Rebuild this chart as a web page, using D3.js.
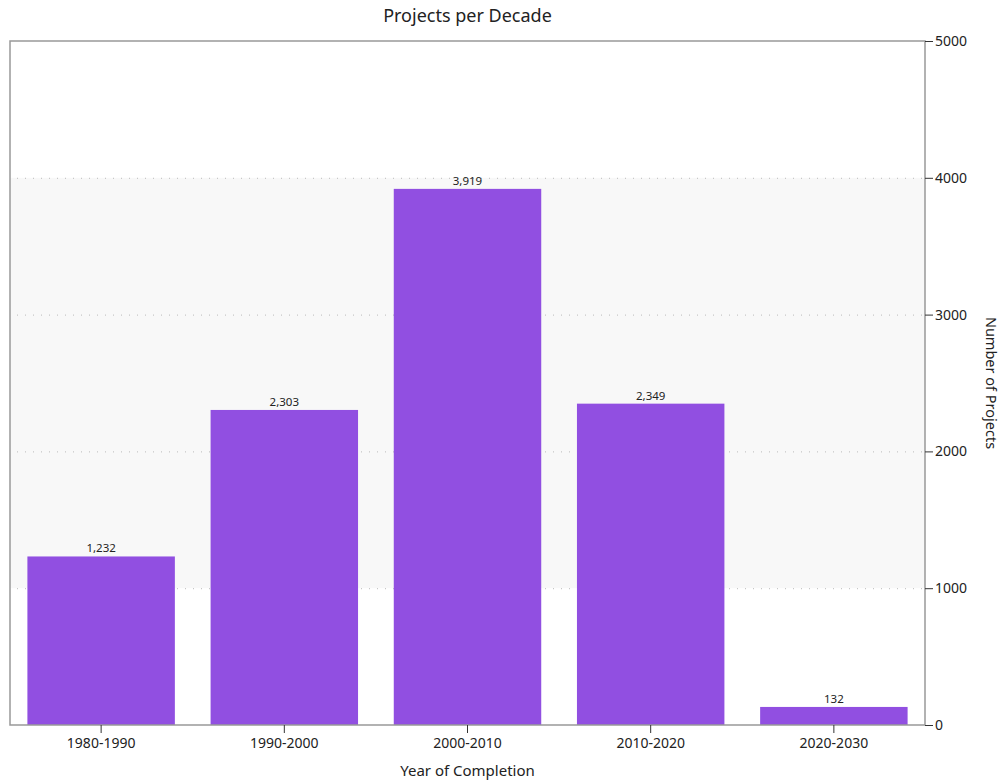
<!DOCTYPE html>
<html>
<head>
<meta charset="utf-8">
<script src="https://cdn.jsdelivr.net/npm/d3@7"></script>
<style>
  html, body { margin: 0; padding: 0; background: #fff; }
  svg { display: block; font-family: "Noto Sans", "Open Sans", sans-serif; }
</style>
</head>
<body>
<svg id="chart" width="1003" height="782"></svg>
<script>
// Number of projects completed per decade
const decades = ["1980-1990", "1990-2000", "2000-2010", "2010-2020", "2020-2030"];
const projectCounts = [1232, 2303, 3919, 2349, 132];
const yTicks = [0, 1000, 2000, 3000, 4000, 5000];
const shadedRange = [1000, 4000];

const svg = d3.select("#chart");
const margin = { left: 10, right: 78, top: 41, bottom: 57 };
const W = 1003, H = 782;
const plotW = W - margin.left - margin.right;
const plotH = H - margin.top - margin.bottom;

const x = d3.scaleBand().domain(decades).range([0, plotW]).paddingInner(0.195).paddingOuter(0.095);
const y = d3.scaleLinear().domain([0, 5000]).range([plotH, 0]);

const g = svg.append("g").attr("transform", `translate(${margin.left},${margin.top})`);

// shaded background band
g.append("rect")
  .attr("x", 0).attr("width", plotW)
  .attr("y", y(shadedRange[1])).attr("height", y(shadedRange[0]) - y(shadedRange[1]))
  .attr("fill", "#f8f8f8");

// dotted grid lines
g.selectAll(".grid").data(yTicks.filter(t => t > 0 && t < 5000)).join("line")
  .attr("x1", 7).attr("x2", plotW)
  .attr("y1", d => y(d) + 0.5).attr("y2", d => y(d) + 0.5)
  .attr("stroke", "#bbbbbb").attr("stroke-width", 1).attr("stroke-dasharray", "1,7");

// bars
g.selectAll(".bar").data(projectCounts).join("rect")
  .attr("x", (d, i) => x(decades[i]))
  .attr("width", x.bandwidth())
  .attr("y", d => y(d))
  .attr("height", d => plotH - y(d))
  .attr("fill", "#914fe1");

// value labels
g.selectAll(".val").data(projectCounts).join("text")
  .attr("x", (d, i) => x(decades[i]) + x.bandwidth() / 2)
  .attr("y", d => y(d) - 4)
  .attr("text-anchor", "middle")
  .attr("font-size", 11.5)
  .attr("fill", "#222")
  .text(d => d3.format(",")(d));

// frame
g.append("rect")
  .attr("x", 0).attr("y", 0).attr("width", plotW).attr("height", plotH)
  .attr("fill", "none").attr("stroke", "#999").attr("stroke-width", 1.5);

// right y axis
const yAxis = g.append("g").attr("transform", `translate(${plotW},0)`)
  .call(d3.axisRight(y).tickValues(yTicks).tickSize(8).tickPadding(2).tickFormat(d3.format("d")));
yAxis.select(".domain").remove();
yAxis.selectAll(".tick line").attr("stroke", "#333");
yAxis.selectAll("text").attr("font-size", 14).attr("fill", "#222").attr("font-family", "Noto Sans, sans-serif");

// bottom x axis
const xAxis = g.append("g").attr("transform", `translate(0,${plotH})`)
  .call(d3.axisBottom(x).tickSize(8).tickPadding(5));
xAxis.select(".domain").remove();
xAxis.selectAll(".tick line").attr("stroke", "#333");
xAxis.selectAll("text").attr("font-size", 14).attr("fill", "#222").attr("font-family", "Noto Sans, sans-serif");

// titles
svg.append("text").attr("x", margin.left + plotW / 2).attr("y", 22)
  .attr("text-anchor", "middle").attr("font-size", 18).attr("fill", "#222")
  .text("Projects per Decade");

svg.append("text").attr("x", margin.left + plotW / 2).attr("y", 776)
  .attr("text-anchor", "middle").attr("font-size", 15).attr("fill", "#222")
  .text("Year of Completion");

svg.append("text")
  .attr("transform", `translate(${986},${margin.top + plotH / 2}) rotate(90)`)
  .attr("text-anchor", "middle").attr("font-size", 14.5).attr("fill", "#222")
  .text("Number of Projects");
</script>
</body>
</html>
